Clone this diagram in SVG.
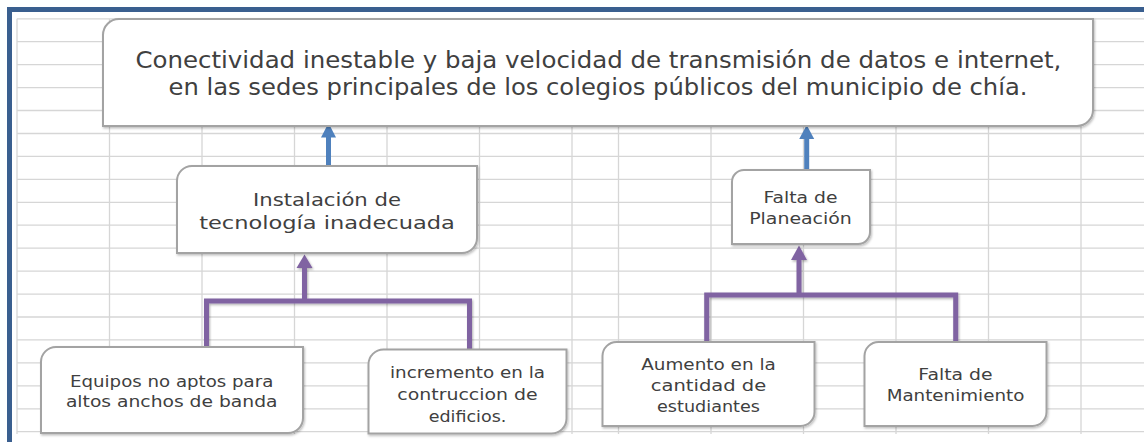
<svg xmlns="http://www.w3.org/2000/svg" width="1144" height="442" viewBox="0 0 1144 442">
  <defs>
    <style>
      .grid line { stroke: #d6d6d6; stroke-width: 1.3; }
      .box { fill: #ffffff; stroke: #a3a3a3; stroke-width: 2; filter: url(#shadow); }
      .t { font-family: "DejaVu Sans", "Liberation Sans", sans-serif; fill: #404040; text-anchor: middle; }
      .blue { stroke: #4f81bd; stroke-width: 5; fill: none; }
      .blueHead { fill: #4f81bd; }
      .purple { stroke: #8064a2; stroke-width: 5; fill: none; stroke-linejoin: miter; }
      .purpleHead { fill: #8064a2; }
    </style>
    <filter id="shadow" x="-5%" y="-5%" width="110%" height="115%">
      <feDropShadow dx="1" dy="1.5" stdDeviation="1" flood-color="#000000" flood-opacity="0.25"/>
    </filter>
    <filter id="lshadow" x="-10%" y="-10%" width="120%" height="130%">
      <feDropShadow dx="1" dy="1.5" stdDeviation="1.2" flood-color="#000000" flood-opacity="0.3"/>
    </filter>
  </defs>

  <rect x="0" y="0" width="1144" height="442" fill="#ffffff"/>

  <g id="grid" class="grid">
    <line x1="17" y1="18.8" x2="1144" y2="18.8"/>
    <line x1="17" y1="41.7" x2="1144" y2="41.7"/>
    <line x1="17" y1="64.6" x2="1144" y2="64.6"/>
    <line x1="17" y1="87.6" x2="1144" y2="87.6"/>
    <line x1="17" y1="110.5" x2="1144" y2="110.5"/>
    <line x1="17" y1="133.5" x2="1144" y2="133.5"/>
    <line x1="17" y1="156.4" x2="1144" y2="156.4"/>
    <line x1="17" y1="179.3" x2="1144" y2="179.3"/>
    <line x1="17" y1="202.3" x2="1144" y2="202.3"/>
    <line x1="17" y1="225.2" x2="1144" y2="225.2"/>
    <line x1="17" y1="248.2" x2="1144" y2="248.2"/>
    <line x1="17" y1="271.1" x2="1144" y2="271.1"/>
    <line x1="17" y1="294.1" x2="1144" y2="294.1"/>
    <line x1="17" y1="317" x2="1144" y2="317"/>
    <line x1="17" y1="339.9" x2="1144" y2="339.9"/>
    <line x1="17" y1="362.9" x2="1144" y2="362.9"/>
    <line x1="17" y1="385.8" x2="1144" y2="385.8"/>
    <line x1="17" y1="408.8" x2="1144" y2="408.8"/>
    <line x1="17" y1="431.7" x2="1144" y2="431.7"/>
    <line x1="17" y1="18.8" x2="17" y2="434"/>
    <line x1="109.5" y1="18.8" x2="109.5" y2="434"/>
    <line x1="202" y1="18.8" x2="202" y2="434"/>
    <line x1="294.5" y1="18.8" x2="294.5" y2="434"/>
    <line x1="387" y1="18.8" x2="387" y2="434"/>
    <line x1="479.5" y1="18.8" x2="479.5" y2="434"/>
    <line x1="572" y1="18.8" x2="572" y2="434"/>
    <line x1="618.5" y1="18.8" x2="618.5" y2="434"/>
    <line x1="711" y1="18.8" x2="711" y2="434"/>
    <line x1="803.5" y1="18.8" x2="803.5" y2="434"/>
    <line x1="896" y1="18.8" x2="896" y2="434"/>
    <line x1="988.5" y1="18.8" x2="988.5" y2="434"/>
    <line x1="1081" y1="18.8" x2="1081" y2="434"/>
  </g>

  <g id="frame" fill="#3a5f8f">
    <rect x="7" y="7" width="1137" height="5"/>
    <rect x="7" y="7" width="5" height="435"/>
  </g>

  <g id="connectors">
    <line class="blue" x1="328.5" y1="134" x2="328.5" y2="166"/>
    <polygon class="blueHead" points="328.5,123 336,137.5 321,137.5"/>
    <line class="blue" x1="806.7" y1="135" x2="806.7" y2="170"/>
    <polygon class="blueHead" points="806.7,125 814.2,139 799.2,139"/>
    <g filter="url(#lshadow)">
      <path class="purple" d="M206.5,349 V301 H469.5 V350"/>
      <line class="purple" x1="304.5" y1="264" x2="304.5" y2="301"/>
      <polygon class="purpleHead" points="304.5,254.5 312.5,268 296.5,268"/>
      <path class="purple" d="M706.7,342 V295 H955.7 V342"/>
      <line class="purple" x1="799" y1="257" x2="799" y2="295"/>
      <polygon class="purpleHead" points="799,245.5 807,260 791,260"/>
    </g>
  </g>

  <g id="node-problema">
    <path class="box" d="M119,19 H1093 V110 A16,16 0 0 1 1077,126 H103 V35 A16,16 0 0 1 119,19 Z"/>
    <text class="t" font-size="23" x="598.4" y="68.3" textLength="926" lengthAdjust="spacingAndGlyphs">Conectividad inestable y baja velocidad de transmisión de datos e internet,</text>
    <text class="t" font-size="23" x="598" y="95" textLength="859" lengthAdjust="spacingAndGlyphs">en las sedes principales de los colegios públicos del municipio de chía.</text>
  </g>

  <g id="node-instalacion">
    <path class="box" d="M192,166 H477 V238 A15,15 0 0 1 462,253 H177 V181 A15,15 0 0 1 192,166 Z"/>
    <text class="t" font-size="18" x="327" y="205.5" textLength="148" lengthAdjust="spacingAndGlyphs">Instalación de</text>
    <text class="t" font-size="18" x="327" y="229" textLength="255.6" lengthAdjust="spacingAndGlyphs">tecnología inadecuada</text>
  </g>

  <g id="node-planeacion">
    <path class="box" d="M744,170 H870 V232 A12,12 0 0 1 858,244 H732 V182 A12,12 0 0 1 744,170 Z"/>
    <text class="t" font-size="16.5" x="800.5" y="202.7" textLength="74" lengthAdjust="spacingAndGlyphs">Falta de</text>
    <text class="t" font-size="16.5" x="800.5" y="224" textLength="102.7" lengthAdjust="spacingAndGlyphs">Planeación</text>
  </g>

  <g id="node-equipos">
    <path class="box" d="M56,347 H303 V418 A15,15 0 0 1 288,433 H41 V362 A15,15 0 0 1 56,347 Z"/>
    <text class="t" font-size="16.5" x="171.7" y="386.7" textLength="203.3" lengthAdjust="spacingAndGlyphs">Equipos no aptos para</text>
    <text class="t" font-size="16.5" x="171.7" y="407.3" textLength="211.6" lengthAdjust="spacingAndGlyphs">altos anchos de banda</text>
  </g>

  <g id="node-incremento">
    <path class="box" d="M383.5,349.5 H566.5 V418.5 A15,15 0 0 1 551.5,433.5 H368.5 V364.5 A15,15 0 0 1 383.5,349.5 Z"/>
    <text class="t" font-size="16.5" x="467.5" y="378.3" textLength="155" lengthAdjust="spacingAndGlyphs">incremento en la</text>
    <text class="t" font-size="16.5" x="467.5" y="400" textLength="140.3" lengthAdjust="spacingAndGlyphs">contruccion de</text>
    <text class="t" font-size="16.5" x="467.5" y="421.7" textLength="77.7" lengthAdjust="spacingAndGlyphs">edificios.</text>
  </g>

  <g id="node-aumento">
    <path class="box" d="M616.5,342 H814.5 V412 A14,14 0 0 1 800.5,426 H602.5 V356 A14,14 0 0 1 616.5,342 Z"/>
    <text class="t" font-size="16.5" x="708.5" y="370" textLength="134.6" lengthAdjust="spacingAndGlyphs">Aumento en la</text>
    <text class="t" font-size="16.5" x="708.5" y="390.7" textLength="115.5" lengthAdjust="spacingAndGlyphs">cantidad de</text>
    <text class="t" font-size="16.5" x="708.5" y="411.7" textLength="102.9" lengthAdjust="spacingAndGlyphs">estudiantes</text>
  </g>

  <g id="node-mantenimiento">
    <path class="box" d="M878.5,342 H1046.5 V412 A14,14 0 0 1 1032.5,426 H864.5 V356 A14,14 0 0 1 878.5,342 Z"/>
    <text class="t" font-size="16.5" x="955.5" y="380" textLength="74.3" lengthAdjust="spacingAndGlyphs">Falta de</text>
    <text class="t" font-size="16.5" x="955.5" y="401" textLength="137.7" lengthAdjust="spacingAndGlyphs">Mantenimiento</text>
  </g>
</svg>
